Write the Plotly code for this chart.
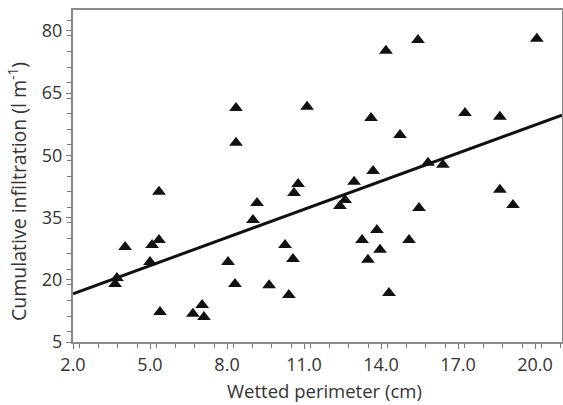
import plotly.graph_objects as go

wetted_perimeter = [3.64, 3.71, 4.03, 5.00, 5.08, 5.35, 5.39, 5.35, 6.67, 7.03, 7.10,
                    8.04, 8.31, 8.35, 8.35, 9.01, 9.17, 9.64, 10.26, 10.57, 10.41, 10.61,
                    10.77, 11.12, 12.40, 12.60, 12.95, 13.26, 13.49, 13.69, 13.61, 13.84,
                    13.96, 14.19, 14.31, 14.74, 15.09, 15.44, 15.48, 15.83, 16.41, 17.27,
                    18.63, 18.63, 19.14, 20.07]
cumulative_infiltration = [19.0, 20.4, 27.9, 24.3, 28.4, 29.6, 12.2, 41.2, 11.8, 13.9, 11.0,
                           24.3, 19.0, 61.4, 53.0, 34.4, 38.5, 18.7, 28.4, 25.0, 16.3, 40.9,
                           43.1, 61.7, 37.8, 39.2, 43.6, 29.6, 24.8, 46.2, 59.0, 32.0,
                           27.2, 75.2, 16.8, 54.9, 29.6, 77.8, 37.3, 48.2, 47.7, 60.2,
                           59.3, 41.7, 38.0, 78.1]

fit_intercept = 12.1
fit_slope = 2.26
x_range = [2.0, 21.05]
y_range = [5, 85]
x_title = "Wetted perimeter (cm)"
y_title = "Cumulative infiltration (l m<sup>-1</sup>)"

line_x = x_range
line_y = [fit_intercept + fit_slope * v for v in line_x]

fig = go.Figure()
fig.add_trace(go.Scatter(x=line_x, y=line_y, mode="lines",
                         line=dict(color="#111111", width=3), showlegend=False))
fig.add_trace(go.Scatter(x=wetted_perimeter, y=cumulative_infiltration, mode="markers",
                         marker=dict(symbol="triangle-up", size=12, color="#111111"),
                         showlegend=False))

font_family = "Open Sans, Noto Sans, sans-serif"
W, H = 563, 405
ml, mr, mt, mb = 73, 1, 10, 63
pw, ph = W - ml - mr, H - mt - mb

fig.update_layout(
    width=W, height=H,
    margin=dict(l=ml, r=mr, t=mt, b=mb),
    paper_bgcolor="white", plot_bgcolor="white",
    font=dict(family=font_family, color="#333333"),
    xaxis=dict(range=x_range, tick0=2, dtick=3, tickformat=".1f",
               automargin=False,
               showgrid=False, zeroline=False,
               showline=True, linecolor="#888888", linewidth=2, mirror=True,
               ticks="outside", ticklen=5, tickcolor="#777777", tickwidth=1,
               minor=dict(dtick=0.75, ticks="outside", ticklen=4, tickcolor="#777777"),
               tickfont=dict(size=18, color="#333333")),
    yaxis=dict(range=y_range, tick0=5, dtick=15,
               automargin=False,
               showgrid=False, zeroline=False,
               showline=True, linecolor="#888888", linewidth=2, mirror=True,
               ticks="outside", ticklen=5, tickcolor="#777777", tickwidth=1,
               minor=dict(dtick=3.75, ticks="outside", ticklen=4, tickcolor="#777777"),
               tickfont=dict(size=18, color="#333333")),
    annotations=[
        dict(text=x_title, xref="paper", yref="paper",
             x=(324 - ml) / pw, y=(H - mb - 390) / ph,
             xanchor="center", yanchor="middle", showarrow=False,
             font=dict(size=18.5, color="#333333")),
        dict(text=y_title, xref="paper", yref="paper", textangle=-90,
             x=(18 - ml) / pw, y=(H - mb - 192) / ph,
             xanchor="center", yanchor="middle", showarrow=False,
             font=dict(size=19.5, color="#333333")),
    ],
)

fig.write_html("out.html", config={"displayModeBar": False},
               post_script="document.body.style.margin='0';document.body.style.overflow='hidden';")
